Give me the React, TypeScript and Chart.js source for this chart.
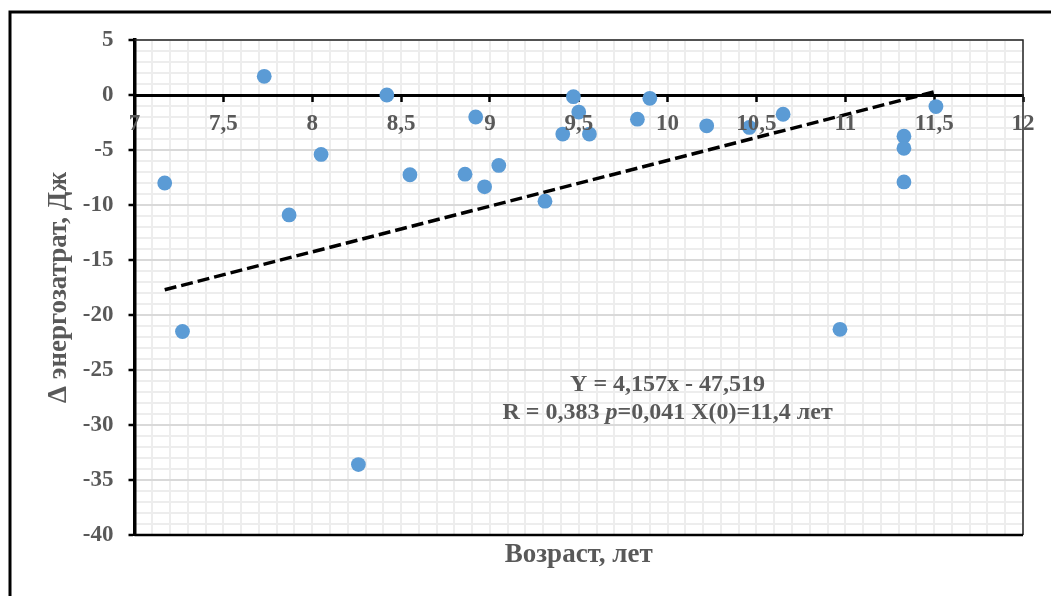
import React, { useEffect, useRef } from "react";
import { Chart, registerables } from "chart.js";

Chart.register(...registerables);

// ---- Data ----
const ageYears = [
  7.17, 7.27, 7.73, 7.87, 8.05, 8.26, 8.42, 8.55, 8.86, 8.92, 8.97, 9.05, 9.31, 9.41,
  9.47, 9.5, 9.56, 9.83, 9.9, 10.22, 10.46, 10.65, 10.97, 11.33, 11.33, 11.33, 11.51,
];
const deltaEnergy = [
  -8.0, -21.5, 1.7, -10.9, -5.4, -33.6, 0.0, -7.25, -7.2, -2.0, -8.35, -6.4, -9.65, -3.55,
  -0.15, -1.55, -3.55, -2.2, -0.3, -2.8, -2.95, -1.75, -21.3, -3.75, -4.85, -7.9, -1.05,
];
const trendX = [7.17, 11.51];
const trendY = [-17.71, 0.33];

const xTicks = [7, 7.5, 8, 8.5, 9, 9.5, 10, 10.5, 11, 11.5, 12];
const yTicks = [5, 0, -5, -10, -15, -20, -25, -30, -35, -40];

const xAxisTitle = "Возраст, лет";
const yAxisTitle = "Δ энергозатрат, Дж";
const equationText = "Y = 4,157x - 47,519";
const statsParts = [
  { text: "R = 0,383 ", italic: false },
  { text: "p", italic: true },
  { text: "=0,041 X(0)=11,4 лет", italic: false },
];
const annotationAt = { x: 10.0, y1: -26.35, y2: -28.9 };

const FONT = "'Liberation Serif', 'Times New Roman', serif";
const TEXT = "#595959";

const framePlugin = {
  id: "frame",
  beforeDraw(chart: any) {
    const ctx = chart.ctx;
    ctx.save();
    ctx.strokeStyle = "#000";
    ctx.lineWidth = 3;
    ctx.strokeRect(10, 12, 1200, 800);
    ctx.restore();
  },
};

const outlinePlugin = {
  id: "outline",
  beforeDatasetsDraw(chart: any) {
    const { ctx, chartArea: a } = chart;
    ctx.save();
    ctx.strokeStyle = "#262626";
    ctx.lineWidth = 1.5;
    ctx.beginPath();
    ctx.moveTo(a.left, a.top);
    ctx.lineTo(a.right, a.top);
    ctx.lineTo(a.right, a.bottom);
    ctx.stroke();
    ctx.strokeStyle = "#000";
    ctx.lineWidth = 2.5;
    ctx.beginPath();
    ctx.moveTo(a.left, a.bottom);
    ctx.lineTo(a.right, a.bottom);
    ctx.stroke();
    ctx.restore();
  },
};

const annotationPlugin = {
  id: "annotation",
  afterDraw(chart: any) {
    const { ctx, scales } = chart;
    const cx = scales.x.getPixelForValue(annotationAt.x);
    const y1 = scales.y.getPixelForValue(annotationAt.y1);
    const y2 = scales.y.getPixelForValue(annotationAt.y2);
    const size = 24;
    const normal = `bold ${size}px ${FONT}`;
    const italic = `italic bold ${size}px ${FONT}`;
    ctx.save();
    ctx.fillStyle = TEXT;
    ctx.textBaseline = "middle";
    ctx.textAlign = "center";
    ctx.font = normal;
    ctx.fillText(equationText, cx, y1);
    let total = 0;
    const widths = statsParts.map((p) => {
      ctx.font = p.italic ? italic : normal;
      const w = ctx.measureText(p.text).width;
      total += w;
      return w;
    });
    let x = cx - total / 2;
    ctx.textAlign = "left";
    statsParts.forEach((p, i) => {
      ctx.font = p.italic ? italic : normal;
      ctx.fillText(p.text, x, y2);
      x += widths[i];
    });
    ctx.restore();
  },
};

export default function App() {
  const canvasRef = useRef<HTMLCanvasElement | null>(null);

  useEffect(() => {
    document.body.style.margin = "0";
    const canvas = canvasRef.current;
    if (!canvas) return;
    const tickFont = { family: FONT, size: 23, weight: "bold" as const };
    const titleFont = { family: FONT, size: 27, weight: "bold" as const };

    const chart = new Chart(canvas, {
      type: "scatter",
      data: {
        datasets: [
          {
            label: "data",
            data: ageYears.map((x, i) => ({ x, y: deltaEnergy[i] })),
            backgroundColor: "#5b9bd5",
            borderWidth: 0,
            pointRadius: 7.4,
            pointHoverRadius: 7.4,
            order: 2,
          },
          {
            type: "line",
            label: "trend",
            data: trendX.map((x, i) => ({ x, y: trendY[i] })),
            borderColor: "#000",
            borderWidth: 3.5,
            borderDash: [12, 5],
            pointRadius: 0,
            fill: false,
            order: 1,
          } as any,
        ],
      },
      options: {
        responsive: false,
        animation: false,
        devicePixelRatio: 1,
        layout: { padding: { left: 0, top: 40, right: 28, bottom: 21 } },
        plugins: {
          legend: { display: false },
          tooltip: { enabled: false },
          title: { display: false },
        },
        scales: {
          xMinor: {
            type: "linear",
            position: "bottom",
            min: 7,
            max: 12,
            afterFit: (s: any) => {
              s.height = 40;
            },
            ticks: { display: false, stepSize: 0.1, autoSkip: false },
            grid: { color: "#ededed", lineWidth: 2, drawTicks: false, z: -2 },
            border: { display: false },
            title: {
              display: true,
              text: xAxisTitle,
              color: TEXT,
              font: titleFont,
              padding: { top: 0, bottom: 4 },
            },
          },
          yMinor: {
            type: "linear",
            position: "right",
            min: -40,
            max: 5,
            afterFit: (s: any) => {
              s.width = 0;
            },
            ticks: { display: false, stepSize: 1, autoSkip: false },
            grid: { color: "#ededed", lineWidth: 2, drawTicks: false, z: -2 },
            border: { display: false },
          },
          x: {
            type: "linear",
            position: { y: 0 } as any,
            min: 7,
            max: 12,
            afterBuildTicks: (s: any) => {
              s.ticks = xTicks.map((v) => ({ value: v }));
            },
            grid: {
              drawOnChartArea: false,
              drawTicks: true,
              tickLength: 5,
              tickWidth: 2.5,
              tickColor: "#000",
            },
            border: { display: true, color: "#000", width: 3 },
            ticks: {
              z: 1,
              color: TEXT,
              font: tickFont,
              padding: 10,
              autoSkip: false,
              maxRotation: 0,
              callback: (v: any) => String(v).replace(".", ","),
            },
          },
          y: {
            type: "linear",
            position: "left",
            min: -40,
            max: 5,
            afterBuildTicks: (s: any) => {
              s.ticks = yTicks.map((v) => ({ value: v }));
            },
            afterFit: (s: any) => {
              s.width = 134.5;
            },
            grid: {
              color: "#d9d9d9",
              lineWidth: 2,
              drawTicks: true,
              tickLength: 6,
              tickWidth: 2.5,
              tickColor: "#000",
            },
            border: { display: true, color: "#000", width: 3.5 },
            ticks: {
              color: TEXT,
              font: tickFont,
              padding: 15,
              autoSkip: false,
              callback: (v: any) => String(v),
            },
            title: {
              display: true,
              text: yAxisTitle,
              color: TEXT,
              font: titleFont,
              padding: { top: 43, bottom: 0 },
            },
          },
        },
      } as any,
      plugins: [framePlugin, outlinePlugin, annotationPlugin],
    });
    return () => chart.destroy();
  }, []);

  return (
    <div style={{ position: "absolute", left: 0, top: 0, width: 1051, height: 596 }}>
      <canvas ref={canvasRef} width={1051} height={596} style={{ display: "block" }} />
    </div>
  );
}
